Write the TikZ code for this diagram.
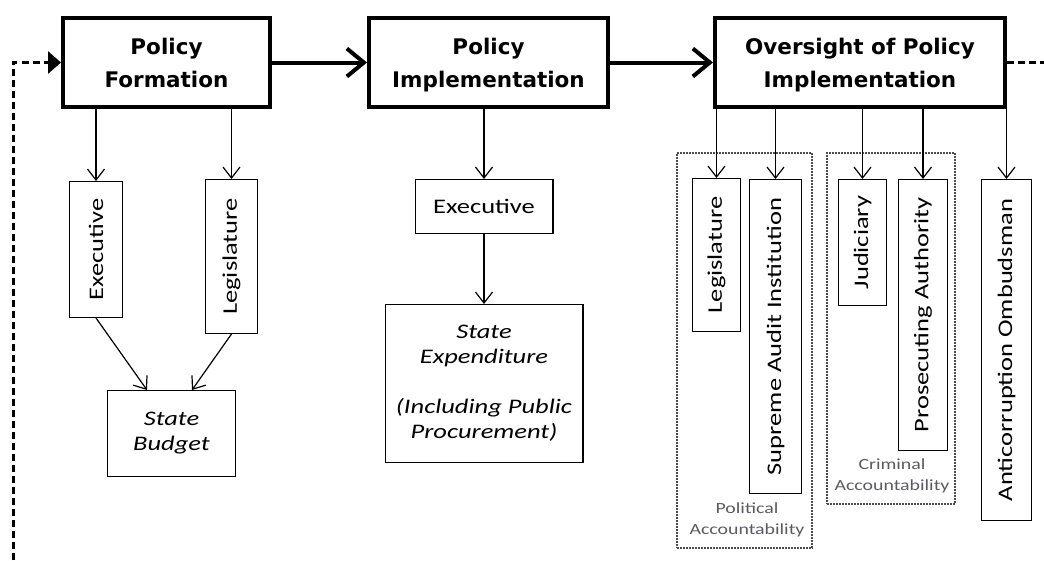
\documentclass[tikz,border=0pt]{standalone}
\usepackage{fontspec}
\setmainfont{Carlito}[FakeStretch=1.28]
\newfontfamily\headfont{DejaVu Sans}
\usetikzlibrary{arrows.meta, positioning}
\definecolor{labelgray}{RGB}{90,90,100}

\begin{document}
\begin{tikzpicture}[x=1pt, y=-1pt,
            stage/.style={draw, line width=4pt, minimum height=89pt, inner sep=0pt, align=center, text depth=0pt,
              font=\headfont\bfseries\fontsize{21.5}{33}\selectfont},
            body/.style={draw, line width=1.3pt, inner sep=0pt, align=center, font=\fontsize{20.7}{25}\selectfont},
            actor/.style={body, rotate=90, anchor=east},
            outcome/.style={body, font=\itshape\fontsize{20.7}{25}\selectfont},
            group/.style={draw=black!70, line width=2pt, dash pattern=on 1.6pt off 1.4pt, minimum width=#1},
            group label/.style={inner sep=0pt, align=center, text=labelgray, font=\fontsize{15.5}{21}\selectfont},
            flow/.style={line width=4pt, -{Straight Barb[length=17pt,width=28pt]}},
            link/.style={line width=1.2pt, -{Straight Barb[length=11pt,width=17pt]}},
            loop/.style={line width=3pt, dash pattern=on 7pt off 4pt}]
            \useasboundingbox (0,0) rectangle (1044,560);

            % Stages of the policy cycle
            \node[stage, minimum width=207pt] (form) at (166.5,62.5) {Policy\\Formation};
            \node[stage, minimum width=239pt, right=95pt of form] (impl) {Policy\\Implementation};
            \node[stage, minimum width=290pt, right=103pt of impl] (over) {Oversight of Policy\\Implementation};

            \draw[flow] (form) -- (impl);
            \draw[flow] (impl) -- (over);

            % Feedback loop (leaves the picture)
            \coordinate (loopin) at (13,560);
            \coordinate (loopout) at (1044,62.5);
            \draw[loop] (over.east) -- (loopout);
            \draw[loop, -{Triangle[length=13pt,width=22pt]}] (loopin) |- (form.west);

            % Policy formation
            \node[actor, minimum width=135.7pt, minimum height=52.7pt] (formexec) at (96,181) {Executive};
            \node[actor, minimum width=153.7pt, minimum height=51.7pt] (formleg) at (231.5,179) {Legislature};
            \node[outcome, minimum width=127.7pt, minimum height=85.7pt] (budget) at (171.5,433.5) {State\\Budget};

            \draw[link] (formexec.east |- form.south) -- (formexec.east);
            \draw[link] (formleg.east |- form.south) -- (formleg.east);
            \draw[link] (formexec.west) -- ([xshift=-24.5pt]budget.north);
            \draw[link] (formleg.west) -- ([xshift=20.5pt]budget.north);

            % Policy implementation
            \node[body, minimum width=137.7pt, minimum height=53.7pt, below=70pt of impl, xshift=-4.5pt] (implexec) {Executive};
            \node[outcome, minimum width=197.7pt, minimum height=157.7pt, below=70pt of implexec] (spend)
              {State\\Expenditure\\[25pt](Including Public\\Procurement)};

            \draw[link] (implexec.north |- impl.south) -- (implexec.north);
            \draw[link] (implexec) -- (spend);

            % Oversight: accountability groups
            \node[group=135pt, minimum height=395pt] (polgrp) at (744.5,350.5) {};
            \node[group=128pt, minimum height=351pt] (crimgrp) at (891,328.5) {};
            \node[group label] (pollabel) at (747,520) {Political\\Accountability};
            \node[group label] (crimlabel) at (892,476) {Criminal\\Accountability};

            \node[actor, minimum width=152.7pt, minimum height=47.7pt] (overleg) at (716.5,178) {Legislature};
            \node[actor, minimum width=313.7pt, minimum height=51.7pt] (audit) at (775.5,179) {Supreme Audit Institution};
            \node[actor, minimum width=125.7pt, minimum height=47.7pt] (judic) at (862.5,179) {Judiciary};
            \node[actor, minimum width=270.7pt, minimum height=48.7pt] (prosec) at (923,179) {Prosecuting Authority};
            \node[actor, minimum width=340.7pt, minimum height=49.7pt] (ombud) at (1006.5,179) {Anticorruption Ombudsman};

            \foreach \n in {overleg, audit, judic, prosec, ombud}
              \draw[link] (\n.east |- over.south) -- (\n.east);
        \end{tikzpicture}
\end{document}
